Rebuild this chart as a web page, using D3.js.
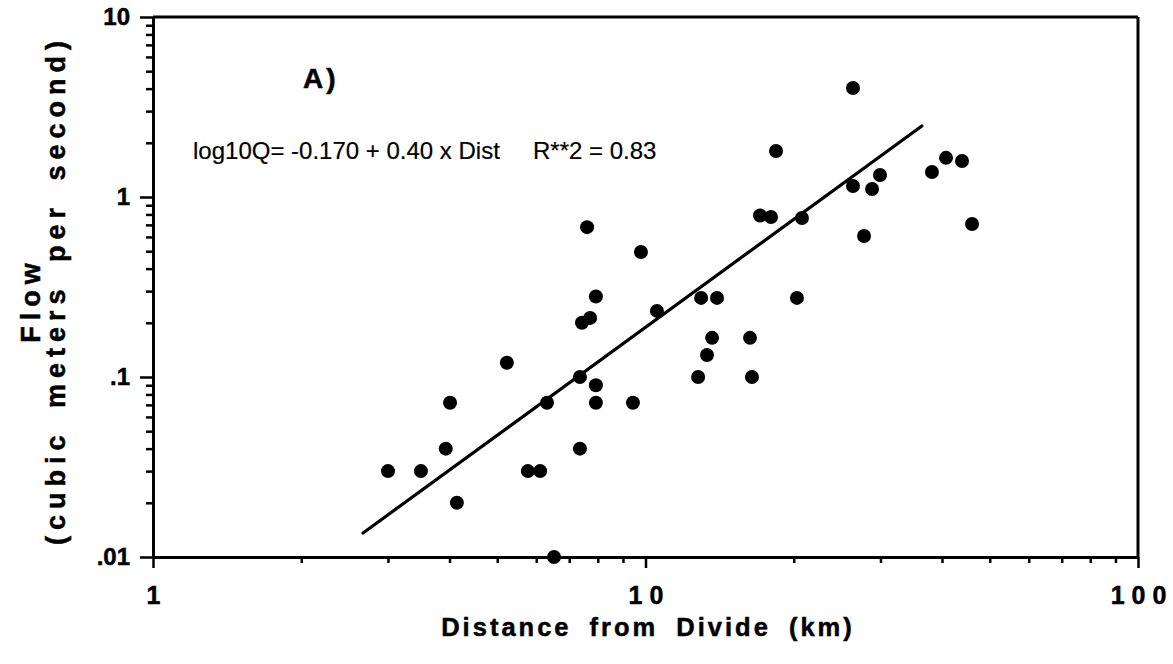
<!DOCTYPE html>
<html>
<head>
<meta charset="utf-8">
<script src="https://cdn.jsdelivr.net/npm/d3@7"></script>
<style>
  html, body { margin: 0; padding: 0; background: #fff; }
  svg { display: block; font-family: "Liberation Sans", Arial, Helvetica, sans-serif; }
</style>
</head>
<body>
<svg id="chart" width="1173" height="664"></svg>
<script>
// ---- data ----
const distanceKm = [3.00, 3.50, 3.93, 4.01, 4.14, 5.23, 5.77, 6.11, 6.31, 6.52,
  7.36, 7.36, 7.43, 7.72, 7.61, 7.93, 7.93, 7.93, 9.43, 9.79,
  10.55, 12.79, 12.97, 13.33, 13.65, 13.97, 16.30, 16.45, 17.08, 17.98,
  18.41, 20.30, 20.78, 26.38, 26.38, 27.78, 28.84, 29.93, 38.16, 40.75,
  43.92, 46.03];
const flowCms = [0.030, 0.030, 0.040, 0.072, 0.020, 0.12, 0.030, 0.030, 0.072, 0.010,
  0.040, 0.10, 0.20, 0.213, 0.68, 0.28, 0.090, 0.072, 0.072, 0.495,
  0.233, 0.10, 0.275, 0.1325, 0.165, 0.275, 0.165, 0.10, 0.79, 0.774,
  1.80, 0.275, 0.765, 4.03, 1.15, 0.607, 1.108, 1.325, 1.377, 1.65,
  1.585, 0.708];
const fitLineX = [2.67, 36.4];
const fitLineY = [0.0136, 2.48];
const xMajorTicks = [1, 10, 100];
const xTickLabels = ["1", "10", "100"];
const yMajorTicks = [0.01, 0.1, 1, 10];
const yTickLabels = [".01", ".1", "1", "10"];
const xTitle = "Distance from Divide (km)";
const yTitle1 = "Flow";
const yTitle2 = "(cubic meters per second)";
const panelLabel = "A)";
const equationText = "log10Q= -0.170 + 0.40 x Dist";
const r2Text = "R**2 = 0.83";

// ---- layout ----
const svg = d3.select("#chart");
const x = d3.scaleLog().domain([1, 100]).range([153, 1138]);
const y = d3.scaleLog().domain([0.01, 10]).range([557, 17]);

function minorTicks(lo, hi) {
  const out = [];
  for (let d = lo; d < hi; d *= 10) for (let k = 2; k <= 9; k++) out.push(+(d * k).toPrecision(3));
  return out;
}
function boldText(sel, size) {
  return sel.attr("font-size", size).attr("font-weight", "bold")
    .attr("font-family", "Liberation Sans, Arial, sans-serif")
    .attr("fill", "#000").attr("stroke", "#000").attr("stroke-width", 0.5);
}

// x axis minor
svg.append("g").attr("transform", `translate(0,${y(0.01)})`)
  .call(d3.axisBottom(x).tickValues(minorTicks(1, 100)).tickSize(6).tickSizeOuter(0).tickFormat(""))
  .call(g => g.select(".domain").remove());
// x axis major
const gx = svg.append("g").attr("transform", `translate(0,${y(0.01)})`)
  .call(d3.axisBottom(x).tickValues(xMajorTicks).tickSize(11).tickSizeOuter(0).tickPadding(18)
    .tickFormat((d, i) => xTickLabels[i]));
boldText(gx.selectAll("text"), 25).style("letter-spacing", "7px").attr("dx", "3.5px");

// y axis minor
svg.append("g").attr("transform", `translate(${x(1)},0)`)
  .call(d3.axisLeft(y).tickValues(minorTicks(0.01, 10)).tickSize(7).tickSizeOuter(0).tickFormat(""))
  .call(g => g.select(".domain").remove());
// y axis major
const gy = svg.append("g").attr("transform", `translate(${x(1)},0)`)
  .call(d3.axisLeft(y).tickValues(yMajorTicks).tickSize(13).tickSizeOuter(0).tickPadding(10)
    .tickFormat((d, i) => yTickLabels[i]));
boldText(gy.selectAll("text"), 24);

svg.selectAll(".tick line").attr("stroke", "#000").attr("stroke-width", 2.5);
svg.selectAll(".domain").attr("stroke", "#000").attr("stroke-width", 3);

// top and right frame
svg.append("line").attr("x1", x(1)).attr("x2", x(100)).attr("y1", y(10)).attr("y2", y(10))
  .attr("stroke", "#000").attr("stroke-width", 3);
svg.append("line").attr("x1", x(100)).attr("x2", x(100)).attr("y1", y(10)).attr("y2", y(0.01))
  .attr("stroke", "#000").attr("stroke-width", 3);

// regression line
svg.append("line")
  .attr("x1", x(fitLineX[0])).attr("y1", y(fitLineY[0]))
  .attr("x2", x(fitLineX[1])).attr("y2", y(fitLineY[1]))
  .attr("stroke", "#000").attr("stroke-width", 3.2).attr("stroke-linecap", "round");

// points
svg.append("g").selectAll("circle")
  .data(distanceKm.map((d, i) => [d, flowCms[i]]))
  .join("circle")
  .attr("cx", d => x(d[0])).attr("cy", d => y(d[1])).attr("r", 7).attr("fill", "#000");

// annotations
boldText(svg.append("text").attr("x", 303).attr("y", 88).text(panelLabel), 28)
  .style("letter-spacing", "3px");
svg.append("text").attr("x", 193).attr("y", 159).text(equationText)
  .attr("font-size", 24).attr("fill", "#000").attr("stroke", "#000").attr("stroke-width", 0.2);
svg.append("text").attr("x", 533).attr("y", 159).text(r2Text)
  .attr("font-size", 24).attr("fill", "#000").attr("stroke", "#000").attr("stroke-width", 0.2);

// axis titles
boldText(svg.append("text").attr("x", 648).attr("y", 636).attr("text-anchor", "middle").text(xTitle), 25.5)
  .style("letter-spacing", "3px").style("word-spacing", "8px");
boldText(svg.append("text").attr("transform", "translate(40,300) rotate(-90)").attr("text-anchor", "middle")
  .text(yTitle1), 27).style("letter-spacing", "6px");
boldText(svg.append("text").attr("transform", "translate(65,290) rotate(-90)").attr("text-anchor", "middle")
  .text(yTitle2), 27).style("letter-spacing", "6px").style("word-spacing", "8px");
</script>
</body>
</html>
